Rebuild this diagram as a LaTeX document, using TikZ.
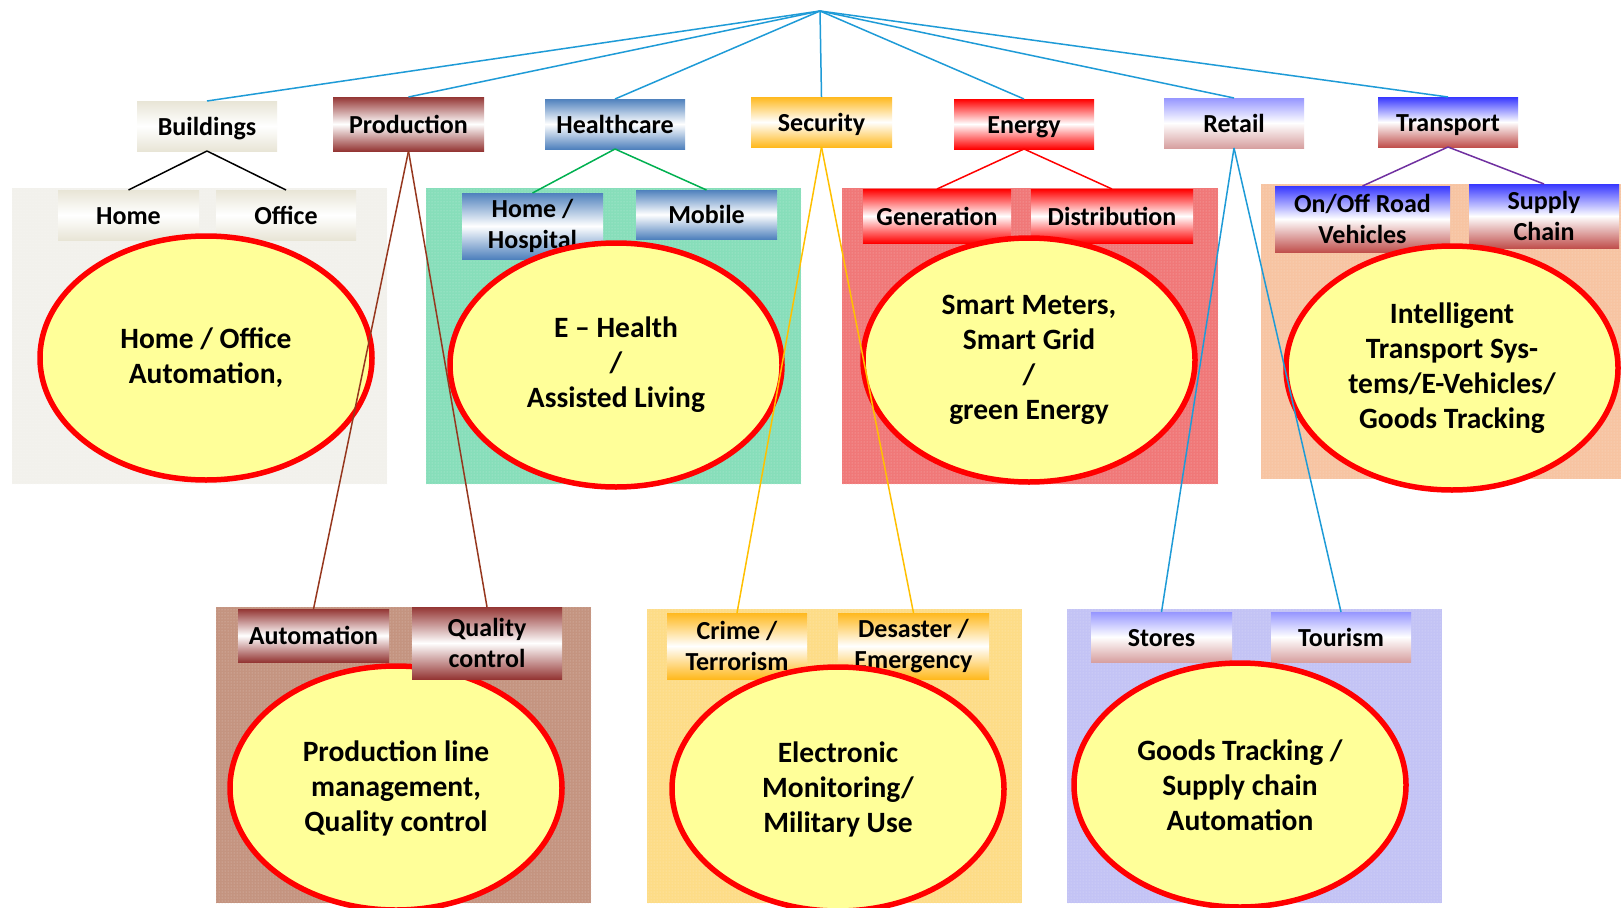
\documentclass[tikz,border=0pt]{standalone}
\usepackage{fontspec}
\setmainfont{Carlito}
\usetikzlibrary{shapes.geometric,patterns}
\definecolor{linkblue}{RGB}{30,155,215}
\definecolor{prodbrown}{RGB}{150,55,30}
\definecolor{hcgreen}{RGB}{0,176,80}
\definecolor{secyellow}{RGB}{255,192,0}
\definecolor{trpurple}{RGB}{112,48,160}
\definecolor{ideafill}{RGB}{255,255,153}
% box gradient colours
\definecolor{bldC}{RGB}{232,229,214}
\definecolor{prodC}{RGB}{148,54,52}
\definecolor{hcC}{RGB}{79,129,189}
\definecolor{secC}{RGB}{255,185,30}
\definecolor{enC}{RGB}{255,0,0}
\definecolor{rtTop}{RGB}{150,150,255}
\definecolor{rtBot}{RGB}{215,160,160}
\definecolor{trTop}{RGB}{55,55,255}
\definecolor{trBot}{RGB}{192,80,77}
% panel colours
\definecolor{pBld}{RGB}{242,241,236}
\definecolor{pHc}{RGB}{135,222,186}
\definecolor{pEn}{RGB}{240,120,120}
\definecolor{pTr}{RGB}{247,196,162}
\definecolor{pProd}{RGB}{196,148,128}
\definecolor{pSec}{RGB}{253,220,135}
\definecolor{pRt}{RGB}{195,195,245}
\tikzset{
  catbox/.style={rectangle, inner sep=0pt, outer sep=0pt, align=center,
    font=\bfseries\fontsize{26}{31}\selectfont},
  oneline/.style={text height=18pt, text depth=0pt},
  grad/.style 2 args={top color=#1, bottom color=#2, middle color=white},
  panelfill/.style={fill=#1, postaction={pattern=dots, pattern color=white!45!#1}},
  idea/.style={ellipse, draw=red, line width=5.5pt, fill=ideafill,
    minimum width=332pt, minimum height=244pt, inner sep=0pt, align=center,
    font=\bfseries\fontsize{29.5}{35}\selectfont},
  conn/.style={line width=1.5pt},
}
\begin{document}
\begin{tikzpicture}[x=1pt,y=-1pt]
\useasboundingbox (0,0) rectangle (1621,907);
\fill[white] (0,0) rectangle (1621,907);
\coordinate (root) at (820,11);

% panels
\fill[panelfill=pBld]  (12,188) rectangle (387,484);
\fill[panelfill=pHc]   (426,188) rectangle (801,484);
\fill[panelfill=pEn]   (842,188) rectangle (1218,484);
\fill[panelfill=pTr]   (1261,184) rectangle (1621,479);
\fill[panelfill=pProd] (216,607) rectangle (591,903);
\fill[panelfill=pSec]  (647,609) rectangle (1022,903);
\fill[panelfill=pRt]   (1067,609) rectangle (1442,903);

% top level boxes
\node[catbox, oneline, grad={bldC}{bldC}, minimum width=140, minimum height=50] (bld) at (207,126) {Buildings};
\node[catbox, oneline, grad={prodC}{prodC}, minimum width=151, minimum height=54] (prod) at (408.5,124) {Production};
\node[catbox, oneline, grad={hcC}{hcC}, minimum width=140, minimum height=50] (hc) at (615,124) {Healthcare};
\node[catbox, oneline, grad={secC}{secC}, minimum width=141, minimum height=50] (sec) at (821.5,122) {Security};
\node[catbox, oneline, grad={enC}{enC}, minimum width=140, minimum height=50] (en) at (1024,124) {Energy};
\node[catbox, oneline, grad={rtTop}{rtBot}, minimum width=140, minimum height=50] (rt) at (1234,123) {Retail};
\node[catbox, oneline, grad={trTop}{trBot}, minimum width=140, minimum height=50] (tr) at (1448,122) {Transport};

% sub boxes
\node[catbox, oneline, grad={bldC}{bldC}, minimum width=141, minimum height=50] (home) at (128.5,215) {Home};
\node[catbox, oneline, grad={bldC}{bldC}, minimum width=140, minimum height=50] (office) at (286,215) {Office};
\node[catbox, grad={hcC}{hcC}, minimum width=141, minimum height=66] (hosp) at (532.5,226) {Home /\\Hospital};
\node[catbox, oneline, grad={hcC}{hcC}, minimum width=141, minimum height=49] (mobile) at (706.5,214.5) {Mobile};
\node[catbox, oneline, grad={enC}{enC}, minimum width=148, minimum height=54] (gen) at (937,216) {Generation};
\node[catbox, oneline, grad={enC}{enC}, minimum width=162, minimum height=54] (dist) at (1112,216) {Distribution};
\node[catbox, grad={trTop}{trBot}, minimum width=175, minimum height=66] (onoff) at (1362.5,219) {On/Off Road\\Vehicles};
\node[catbox, grad={trTop}{trBot}, minimum width=150, minimum height=64] (supply) at (1544,216) {Supply\\Chain};
\node[catbox, oneline, grad={prodC}{prodC}, minimum width=151, minimum height=53] (auto) at (313.5,635.5) {Automation};
\node[catbox, grad={secC}{secC}, minimum width=140, minimum height=66] (crime) at (737,646) {Crime /\\Terrorism};
\node[catbox, grad={secC}{secC}, minimum width=151, minimum height=66] (desaster) at (913.5,646) {Desaster /\\Emergency};
\node[catbox, oneline, grad={rtTop}{rtBot}, minimum width=141, minimum height=50] (stores) at (1161.5,637) {Stores};
\node[catbox, oneline, grad={rtTop}{rtBot}, minimum width=140, minimum height=50] (tourism) at (1341,637) {Tourism};

% ellipses
\node[idea] (e1) at (206,358) {Home / Office\\Automation,};
\node[idea] (e2) at (616,365) {E -- Health\\/\\Assisted Living};
\node[idea] (e3) at (1029,360) {Smart Meters,\\Smart Grid\\/\\green Energy};
\node[idea] (e4) at (1452,368) {Intelligent\\Transport Sys-\\tems/E-Vehicles/\\Goods Tracking};
\node[idea] (e5) at (396,788) {Production line\\management,\\Quality control};
\node[idea] (e6) at (838,789) {Electronic\\Monitoring/\\Military Use};
\node[idea] (e7) at (1240,785) {Goods Tracking /\\Supply chain\\Automation};

\node[catbox, grad={prodC}{prodC}, minimum width=150, minimum height=72] (quality) at (487,643) {Quality\\control};

% connectors
\foreach \t in {bld,prod,hc,sec,en,rt,tr}
  \draw[conn, linkblue] (root) -- (\t.north);
\draw[conn, black] (bld.south) -- (home.north);
\draw[conn, black] (bld.south) -- (office.north);
\draw[conn, hcgreen] (hc.south) -- (hosp.north);
\draw[conn, hcgreen] (hc.south) -- (mobile.north);
\draw[conn, red] (en.south) -- (gen.north);
\draw[conn, red] (en.south) -- (dist.north);
\draw[conn, trpurple] (tr.south) -- (onoff.north);
\draw[conn, trpurple] (tr.south) -- (supply.north);
\draw[conn, prodbrown] (prod.south) -- (auto.north);
\draw[conn, prodbrown] (prod.south) -- (quality.north);
\draw[conn, secyellow] (sec.south) -- (crime.north);
\draw[conn, secyellow] (sec.south) -- (desaster.north);
\draw[conn, linkblue] (rt.south) -- (stores.north);
\draw[conn, linkblue] (rt.south) -- (tourism.north);
\end{tikzpicture}
\end{document}
